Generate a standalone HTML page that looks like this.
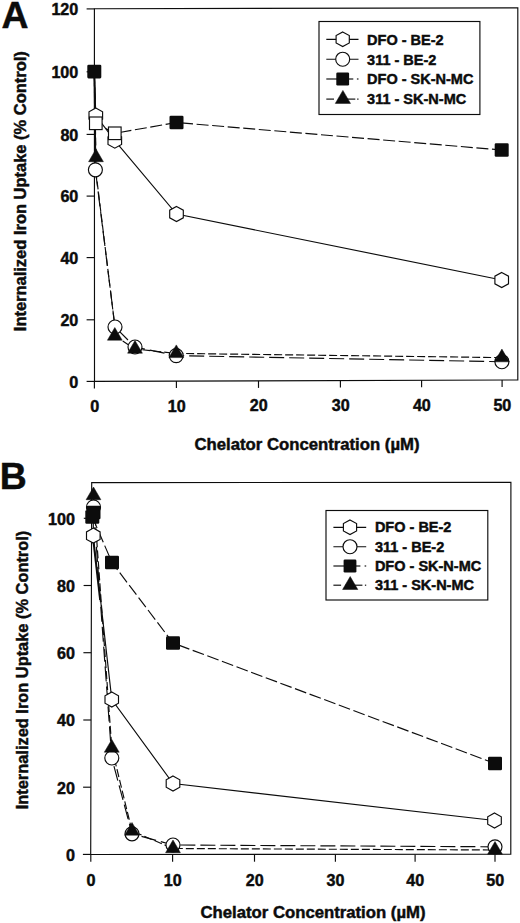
<!DOCTYPE html>
<html><head><meta charset="utf-8"><title>Figure</title>
<style>
html,body{margin:0;padding:0;background:#fff;}
body{width:520px;height:923px;overflow:hidden;position:relative;}
svg{display:block;position:absolute;left:0;top:0;}
svg text{font-family:"Liberation Sans",sans-serif;font-weight:bold;fill:#0c0c0c;stroke:#0c0c0c;stroke-width:0.45px;}
</style></head><body>
<svg width="520" height="923" viewBox="0 0 520 923">
<rect width="520" height="923" fill="#fff"/>
<polygon points="94.4,8.8 517.8,7.8 517.8,380.0 94.5,381.4" fill="none" stroke="#0c0c0c" stroke-width="1.15"/>
<line x1="86.6" y1="381.4" x2="94.5" y2="381.4" stroke="#0c0c0c" stroke-width="1.15"/>
<text x="69.3" y="387.7" font-size="16.1" textLength="9.0" lengthAdjust="spacingAndGlyphs">0</text>
<line x1="86.6" y1="319.8" x2="94.5" y2="319.8" stroke="#0c0c0c" stroke-width="1.15"/>
<text x="60.4" y="326.1" font-size="16.1" textLength="17.9" lengthAdjust="spacingAndGlyphs">20</text>
<line x1="86.6" y1="257.6" x2="94.5" y2="257.6" stroke="#0c0c0c" stroke-width="1.15"/>
<text x="60.4" y="263.9" font-size="16.1" textLength="17.9" lengthAdjust="spacingAndGlyphs">40</text>
<line x1="86.6" y1="196.1" x2="94.5" y2="196.1" stroke="#0c0c0c" stroke-width="1.15"/>
<text x="60.4" y="202.4" font-size="16.1" textLength="17.9" lengthAdjust="spacingAndGlyphs">60</text>
<line x1="86.6" y1="134.4" x2="94.5" y2="134.4" stroke="#0c0c0c" stroke-width="1.15"/>
<text x="60.4" y="140.7" font-size="16.1" textLength="17.9" lengthAdjust="spacingAndGlyphs">80</text>
<line x1="86.6" y1="71.8" x2="94.5" y2="71.8" stroke="#0c0c0c" stroke-width="1.15"/>
<text x="51.4" y="78.1" font-size="16.1" textLength="26.9" lengthAdjust="spacingAndGlyphs">100</text>
<line x1="86.6" y1="8.9" x2="94.5" y2="8.9" stroke="#0c0c0c" stroke-width="1.15"/>
<text x="51.4" y="15.2" font-size="16.1" textLength="26.9" lengthAdjust="spacingAndGlyphs">120</text>
<line x1="94.4" y1="381.4" x2="94.4" y2="388.4" stroke="#0c0c0c" stroke-width="1.15"/>
<text x="90.2" y="411.7" font-size="16.1" textLength="9.0" lengthAdjust="spacingAndGlyphs">0</text>
<line x1="176.4" y1="381.1" x2="176.4" y2="388.1" stroke="#0c0c0c" stroke-width="1.15"/>
<text x="167.7" y="411.6" font-size="16.1" textLength="17.9" lengthAdjust="spacingAndGlyphs">10</text>
<line x1="258.5" y1="380.9" x2="258.5" y2="387.9" stroke="#0c0c0c" stroke-width="1.15"/>
<text x="249.8" y="411.4" font-size="16.1" textLength="17.9" lengthAdjust="spacingAndGlyphs">20</text>
<line x1="340.4" y1="380.6" x2="340.4" y2="387.6" stroke="#0c0c0c" stroke-width="1.15"/>
<text x="331.7" y="411.3" font-size="16.1" textLength="17.9" lengthAdjust="spacingAndGlyphs">30</text>
<line x1="421.6" y1="380.3" x2="421.6" y2="387.3" stroke="#0c0c0c" stroke-width="1.15"/>
<text x="412.9" y="411.1" font-size="16.1" textLength="17.9" lengthAdjust="spacingAndGlyphs">40</text>
<line x1="502.1" y1="380.1" x2="502.1" y2="387.1" stroke="#0c0c0c" stroke-width="1.15"/>
<text x="493.4" y="411.0" font-size="16.1" textLength="17.9" lengthAdjust="spacingAndGlyphs">50</text>
<text x="307.0" y="450.2" text-anchor="middle" font-size="15.7" textLength="225" lengthAdjust="spacingAndGlyphs">Chelator Concentration (µM)</text>
<text transform="translate(26.0,191.2) rotate(-90)" text-anchor="middle" font-size="15.7" textLength="280" lengthAdjust="spacingAndGlyphs">Internalized Iron Uptake (% Control)</text>
<text x="1.6" y="28.4" text-anchor="start" font-size="37.4" stroke-width="0.9">A</text>
<polyline points="94.3,71.6 95.8,115.5 114.8,140.7 176.5,214.0 501.7,280.0" fill="none" stroke="#0c0c0c" stroke-width="1.15"/>
<polyline points="94.3,71.6 95.4,169.8 115.0,327.0 135.0,347.0 176.2,355.6 501.9,361.7" fill="none" stroke="#0c0c0c" stroke-width="1.15" stroke-dasharray="15 5"/>
<polyline points="94.3,71.6 95.8,123.3 114.8,133.3 176.5,122.5 501.7,150.0" fill="none" stroke="#0c0c0c" stroke-width="1.15" stroke-dasharray="12 3.6"/>
<polyline points="94.3,71.6 96.0,157.5 95.7,170.0 114.9,327.0 114.8,336.0 135.0,349.0 176.3,353.4 501.9,357.6" fill="none" stroke="#0c0c0c" stroke-width="1.15" stroke-dasharray="8 3"/>
<line x1="94.4" y1="71.6" x2="95.4" y2="160.0" stroke="#0c0c0c" stroke-width="1.70"/>
<polygon points="95.8,108.0 102.6,111.8 102.6,119.2 95.8,123.0 89.0,119.2 89.0,111.8" fill="#fff" stroke="#0c0c0c" stroke-width="1.15"/>
<polygon points="114.8,133.2 121.6,136.9 121.6,144.4 114.8,148.2 108.0,144.4 108.0,136.9" fill="#fff" stroke="#0c0c0c" stroke-width="1.15"/>
<polygon points="176.5,206.5 183.3,210.2 183.3,217.8 176.5,221.5 169.7,217.8 169.7,210.2" fill="#fff" stroke="#0c0c0c" stroke-width="1.15"/>
<polygon points="501.7,272.5 508.5,276.2 508.5,283.8 501.7,287.5 494.9,283.8 494.9,276.2" fill="#fff" stroke="#0c0c0c" stroke-width="1.15"/>
<circle cx="95.4" cy="169.8" r="7.0" fill="#fff" stroke="#0c0c0c" stroke-width="1.15"/>
<circle cx="115.0" cy="327.0" r="7.0" fill="#fff" stroke="#0c0c0c" stroke-width="1.15"/>
<circle cx="135.0" cy="347.0" r="7.0" fill="#fff" stroke="#0c0c0c" stroke-width="1.15"/>
<circle cx="176.2" cy="355.6" r="7.0" fill="#fff" stroke="#0c0c0c" stroke-width="1.15"/>
<circle cx="501.9" cy="361.7" r="7.0" fill="#fff" stroke="#0c0c0c" stroke-width="1.15"/>
<rect x="89.5" y="117.0" width="12.6" height="12.6" fill="#fff" stroke="#0c0c0c" stroke-width="1.15"/>
<rect x="108.5" y="127.0" width="12.6" height="12.6" fill="#fff" stroke="#0c0c0c" stroke-width="1.15"/>
<rect x="87.3" y="64.8" width="14.0" height="13.6" rx="1.3" fill="#0c0c0c"/>
<rect x="169.5" y="115.7" width="14.0" height="13.6" rx="1.3" fill="#0c0c0c"/>
<rect x="494.7" y="143.2" width="14.0" height="13.6" rx="1.3" fill="#0c0c0c"/>
<polygon points="96.0,149.0 103.4,161.7 88.6,161.7" fill="#0c0c0c" stroke="#0c0c0c" stroke-width="0.5" stroke-linejoin="miter"/>
<polygon points="114.8,327.5 122.2,340.2 107.4,340.2" fill="#0c0c0c" stroke="#0c0c0c" stroke-width="0.5" stroke-linejoin="miter"/>
<polygon points="135.0,340.5 142.4,353.2 127.6,353.2" fill="#0c0c0c" stroke="#0c0c0c" stroke-width="0.5" stroke-linejoin="miter"/>
<polygon points="176.3,344.9 183.7,357.6 168.9,357.6" fill="#0c0c0c" stroke="#0c0c0c" stroke-width="0.5" stroke-linejoin="miter"/>
<polygon points="501.9,349.1 509.3,361.8 494.5,361.8" fill="#0c0c0c" stroke="#0c0c0c" stroke-width="0.5" stroke-linejoin="miter"/>
<rect x="319.0" y="21.5" width="160.9" height="93.0" fill="#fff" stroke="#0c0c0c" stroke-width="1.15"/>
<line x1="326.3" y1="39.3" x2="358.5" y2="39.3" stroke="#0c0c0c" stroke-width="1.15"/>
<polygon points="342.7,32.0 349.3,35.6 349.3,42.9 342.7,46.6 336.1,42.9 336.1,35.6" fill="#fff" stroke="#0c0c0c" stroke-width="1.15"/>
<text x="367.1" y="44.6" text-anchor="start" font-size="14.5" >DFO - BE-2</text>
<line x1="326.3" y1="59.2" x2="358.5" y2="59.2" stroke="#0c0c0c" stroke-width="1.15"/>
<circle cx="342.7" cy="59.2" r="7.0" fill="#fff" stroke="#0c0c0c" stroke-width="1.15"/>
<text x="367.1" y="64.5" text-anchor="start" font-size="14.5" >311 - BE-2</text>
<line x1="326.3" y1="79.0" x2="353.3" y2="79.0" stroke="#0c0c0c" stroke-width="1.15"/>
<line x1="356.9" y1="79.0" x2="358.5" y2="79.0" stroke="#0c0c0c" stroke-width="1.15"/>
<rect x="336.3" y="72.5" width="12.8" height="13.0" rx="1.3" fill="#0c0c0c"/>
<text x="367.1" y="84.2" text-anchor="start" font-size="14.5" >DFO - SK-N-MC</text>
<line x1="326.3" y1="99.1" x2="334.0" y2="99.1" stroke="#0c0c0c" stroke-width="1.15"/>
<line x1="338.3" y1="99.1" x2="355.3" y2="99.1" stroke="#0c0c0c" stroke-width="1.15"/>
<line x1="357.2" y1="99.1" x2="358.5" y2="99.1" stroke="#0c0c0c" stroke-width="1.15"/>
<polygon points="342.9,90.4 350.5,103.4 335.3,103.4" fill="#0c0c0c" stroke="#0c0c0c" stroke-width="0.5" stroke-linejoin="miter"/>
<text x="367.1" y="104.2" text-anchor="start" font-size="14.5" >311 - SK-N-MC</text>
<polygon points="91.7,482.6 510.9,482.3 510.8,854.2 90.7,854.5" fill="none" stroke="#0c0c0c" stroke-width="1.15"/>
<line x1="82.9" y1="854.4" x2="90.7" y2="854.4" stroke="#0c0c0c" stroke-width="1.15"/>
<text x="65.9" y="860.7" font-size="16.1" textLength="9.0" lengthAdjust="spacingAndGlyphs">0</text>
<line x1="83.1" y1="787.2" x2="90.9" y2="787.2" stroke="#0c0c0c" stroke-width="1.15"/>
<text x="57.0" y="793.5" font-size="16.1" textLength="17.9" lengthAdjust="spacingAndGlyphs">20</text>
<line x1="83.3" y1="720.0" x2="91.1" y2="720.0" stroke="#0c0c0c" stroke-width="1.15"/>
<text x="57.0" y="726.3" font-size="16.1" textLength="17.9" lengthAdjust="spacingAndGlyphs">40</text>
<line x1="83.4" y1="652.7" x2="91.2" y2="652.7" stroke="#0c0c0c" stroke-width="1.15"/>
<text x="57.0" y="659.0" font-size="16.1" textLength="17.9" lengthAdjust="spacingAndGlyphs">60</text>
<line x1="83.6" y1="585.5" x2="91.4" y2="585.5" stroke="#0c0c0c" stroke-width="1.15"/>
<text x="57.0" y="591.8" font-size="16.1" textLength="17.9" lengthAdjust="spacingAndGlyphs">80</text>
<line x1="83.8" y1="518.3" x2="91.6" y2="518.3" stroke="#0c0c0c" stroke-width="1.15"/>
<text x="48.0" y="524.6" font-size="16.1" textLength="26.9" lengthAdjust="spacingAndGlyphs">100</text>
<line x1="90.8" y1="854.4" x2="90.8" y2="861.7" stroke="#0c0c0c" stroke-width="1.15"/>
<text x="86.5" y="885.6" font-size="16.1" textLength="9.0" lengthAdjust="spacingAndGlyphs">0</text>
<line x1="172.6" y1="854.4" x2="172.6" y2="861.7" stroke="#0c0c0c" stroke-width="1.15"/>
<text x="163.8" y="885.6" font-size="16.1" textLength="17.9" lengthAdjust="spacingAndGlyphs">10</text>
<line x1="254.5" y1="854.4" x2="254.5" y2="861.7" stroke="#0c0c0c" stroke-width="1.15"/>
<text x="245.7" y="885.6" font-size="16.1" textLength="17.9" lengthAdjust="spacingAndGlyphs">20</text>
<line x1="335.4" y1="854.4" x2="335.4" y2="861.7" stroke="#0c0c0c" stroke-width="1.15"/>
<text x="326.6" y="885.6" font-size="16.1" textLength="17.9" lengthAdjust="spacingAndGlyphs">30</text>
<line x1="415.1" y1="854.4" x2="415.1" y2="861.7" stroke="#0c0c0c" stroke-width="1.15"/>
<text x="406.3" y="885.6" font-size="16.1" textLength="17.9" lengthAdjust="spacingAndGlyphs">40</text>
<line x1="495.0" y1="854.4" x2="495.0" y2="861.7" stroke="#0c0c0c" stroke-width="1.15"/>
<text x="486.2" y="885.6" font-size="16.1" textLength="17.9" lengthAdjust="spacingAndGlyphs">50</text>
<text x="313.0" y="918.2" text-anchor="middle" font-size="15.7" textLength="225" lengthAdjust="spacingAndGlyphs">Chelator Concentration (µM)</text>
<text transform="translate(28.0,670.0) rotate(-90)" text-anchor="middle" font-size="15.7" textLength="278.5" lengthAdjust="spacingAndGlyphs">Internalized Iron Uptake (% Control)</text>
<text x="-0.2" y="489.0" text-anchor="start" font-size="37.4" stroke-width="0.9">B</text>
<polyline points="93.3,516.0 93.3,535.6 111.8,699.5 173.0,783.5 494.5,820.5" fill="none" stroke="#0c0c0c" stroke-width="1.15"/>
<polyline points="93.5,507.0 111.8,758.0 132.0,833.8 173.0,845.0 495.0,846.8" fill="none" stroke="#0c0c0c" stroke-width="1.15" stroke-dasharray="15 5"/>
<polyline points="92.3,517.0 112.0,562.5 173.0,643.0 495.0,763.5" fill="none" stroke="#0c0c0c" stroke-width="1.15" stroke-dasharray="12 3.6"/>
<polyline points="93.5,495.5 111.8,748.0 132.0,831.0 173.0,848.5 495.0,850.0" fill="none" stroke="#0c0c0c" stroke-width="1.15" stroke-dasharray="8 3"/>
<line x1="93.5" y1="543.0" x2="100.0" y2="600.0" stroke="#0c0c0c" stroke-width="1.70"/>
<polygon points="93.3,528.1 100.1,531.9 100.1,539.4 93.3,543.1 86.5,539.4 86.5,531.9" fill="#fff" stroke="#0c0c0c" stroke-width="1.15"/>
<polygon points="111.8,692.0 118.5,695.8 118.5,703.2 111.8,707.0 105.0,703.2 105.0,695.8" fill="#fff" stroke="#0c0c0c" stroke-width="1.15"/>
<polygon points="173.0,776.0 179.8,779.8 179.8,787.2 173.0,791.0 166.2,787.2 166.2,779.8" fill="#fff" stroke="#0c0c0c" stroke-width="1.15"/>
<polygon points="494.5,813.0 501.3,816.8 501.3,824.2 494.5,828.0 487.7,824.2 487.7,816.8" fill="#fff" stroke="#0c0c0c" stroke-width="1.15"/>
<circle cx="93.5" cy="507.0" r="7.0" fill="#fff" stroke="#0c0c0c" stroke-width="1.15"/>
<circle cx="111.8" cy="758.0" r="7.0" fill="#fff" stroke="#0c0c0c" stroke-width="1.15"/>
<circle cx="132.0" cy="833.8" r="7.0" fill="#fff" stroke="#0c0c0c" stroke-width="1.15"/>
<circle cx="173.0" cy="845.0" r="7.0" fill="#fff" stroke="#0c0c0c" stroke-width="1.15"/>
<circle cx="495.0" cy="846.8" r="7.0" fill="#fff" stroke="#0c0c0c" stroke-width="1.15"/>
<rect x="86.5" y="505.7" width="14.0" height="13.6" rx="1.3" fill="#0c0c0c"/>
<rect x="85.3" y="510.2" width="14.0" height="13.6" rx="1.3" fill="#0c0c0c"/>
<rect x="105.0" y="555.7" width="14.0" height="13.6" rx="1.3" fill="#0c0c0c"/>
<rect x="166.0" y="636.2" width="14.0" height="13.6" rx="1.3" fill="#0c0c0c"/>
<rect x="488.0" y="756.7" width="14.0" height="13.6" rx="1.3" fill="#0c0c0c"/>
<polygon points="93.5,487.0 100.9,499.7 86.1,499.7" fill="#0c0c0c" stroke="#0c0c0c" stroke-width="0.5" stroke-linejoin="miter"/>
<polygon points="111.8,739.5 119.2,752.2 104.3,752.2" fill="#0c0c0c" stroke="#0c0c0c" stroke-width="0.5" stroke-linejoin="miter"/>
<polygon points="132.0,822.5 139.4,835.2 124.6,835.2" fill="#0c0c0c" stroke="#0c0c0c" stroke-width="0.5" stroke-linejoin="miter"/>
<polygon points="173.0,840.0 180.4,852.7 165.6,852.7" fill="#0c0c0c" stroke="#0c0c0c" stroke-width="0.5" stroke-linejoin="miter"/>
<polygon points="495.0,841.5 502.4,854.2 487.6,854.2" fill="#0c0c0c" stroke="#0c0c0c" stroke-width="0.5" stroke-linejoin="miter"/>
<rect x="326.0" y="510.5" width="161.8" height="89.5" fill="#fff" stroke="#0c0c0c" stroke-width="1.15"/>
<line x1="333.4" y1="527.3" x2="366.2" y2="527.3" stroke="#0c0c0c" stroke-width="1.15"/>
<polygon points="350.0,520.0 356.6,523.6 356.6,530.9 350.0,534.6 343.4,530.9 343.4,523.6" fill="#fff" stroke="#0c0c0c" stroke-width="1.15"/>
<text x="374.9" y="532.3" text-anchor="start" font-size="14.5" >DFO - BE-2</text>
<line x1="333.4" y1="546.7" x2="366.2" y2="546.7" stroke="#0c0c0c" stroke-width="1.15"/>
<circle cx="350.0" cy="546.7" r="7.0" fill="#fff" stroke="#0c0c0c" stroke-width="1.15"/>
<text x="374.9" y="551.8" text-anchor="start" font-size="14.5" >311 - BE-2</text>
<line x1="333.4" y1="566.0" x2="360.4" y2="566.0" stroke="#0c0c0c" stroke-width="1.15"/>
<line x1="364.6" y1="566.0" x2="366.2" y2="566.0" stroke="#0c0c0c" stroke-width="1.15"/>
<rect x="343.6" y="559.5" width="12.8" height="13.0" rx="1.3" fill="#0c0c0c"/>
<text x="374.9" y="571.0" text-anchor="start" font-size="14.5" >DFO - SK-N-MC</text>
<line x1="333.4" y1="585.2" x2="341.1" y2="585.2" stroke="#0c0c0c" stroke-width="1.15"/>
<line x1="345.4" y1="585.2" x2="362.4" y2="585.2" stroke="#0c0c0c" stroke-width="1.15"/>
<line x1="364.9" y1="585.2" x2="366.2" y2="585.2" stroke="#0c0c0c" stroke-width="1.15"/>
<polygon points="350.2,576.5 357.8,589.5 342.6,589.5" fill="#0c0c0c" stroke="#0c0c0c" stroke-width="0.5" stroke-linejoin="miter"/>
<text x="374.9" y="589.9" text-anchor="start" font-size="14.5" >311 - SK-N-MC</text>
</svg>
</body></html>
